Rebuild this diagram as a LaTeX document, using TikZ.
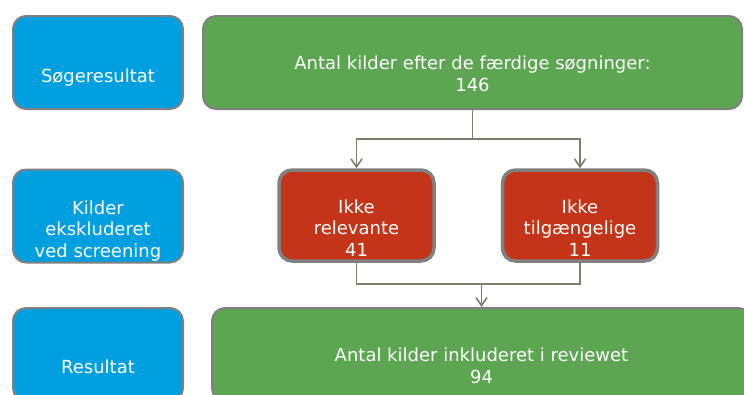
\documentclass[tikz,border=0pt]{standalone}
\usepackage{fontspec}
\setmainfont{DejaVu Sans}
\usetikzlibrary{arrows.meta,calc}
\definecolor{bluefill}{RGB}{0,160,224}
\definecolor{greenfill}{RGB}{92,166,82}
\definecolor{redfill}{RGB}{196,52,24}
\definecolor{boxedge}{RGB}{128,128,128}
\definecolor{linkcol}{RGB}{126,126,110}
\begin{document}
\begin{tikzpicture}[x=1pt,y=-1pt,
  box/.style={draw=boxedge,line width=2pt,rounded corners=13pt,
    minimum width=#1,minimum height=93pt,inner sep=0pt,outer sep=1pt},
  bluebox/.style={box=170pt,fill=bluefill},
  greenbox/.style={box=539pt,fill=greenfill},
  redbox/.style={draw=boxedge,line width=3.5pt,rounded corners=13pt,fill=redfill,
    minimum width=155pt,minimum height=91pt,inner sep=0pt},
  label/.style={text=white,align=center,anchor=base,
    font=\fontsize{18}{21.5}\selectfont},
  link/.style={draw=linkcol,line width=1.8pt},
  arrow/.style={link,-{Straight Barb[length=8pt,width=11pt,line width=1.6pt]}}]
\useasboundingbox (0,0) rectangle (744,394);

% row labels on the left
\node[bluebox] (b1) at (98,62.5) {};
\node[bluebox] (b2) at (98,216) {};
\node[bluebox] (b3) at (98,354.5) {};

% flow boxes
\node[greenbox] (g1) at (472.5,62.5) {};
\node[redbox] (r1) at (356.5,215.5) {};
\node[redbox] (r2) at (580,215.5) {};
\node[greenbox] (g2) at (481.5,354.5) {};

% texts (anchored on the baseline of their last line)
\node[label] (t1) at (98,82) {Søgeresultat};
\node[label] (t2) at (98,257) {Kilder\\ekskluderet\\ved screening};
\node[label] (t3) at (98,373) {Resultat};
\node[label] (t4) at (472.5,91) {Antal kilder efter de færdige søgninger:\\146};
\node[label] (t5) at (356.5,256) {Ikke\\relevante\\41};
\node[label] (t6) at (580,256) {Ikke\\tilgængelige\\11};
\node[label] (t7) at (481.5,383) {Antal kilder inkluderet i reviewet\\94};

% split after the search
\coordinate (split) at ($(g1.south)+(0,29)$);
\draw[link] (g1.south) -- (split);
\draw[arrow] (split) -| (r1.north);
\draw[arrow] (split) -| (r2.north);

% merge into the result
\coordinate (merge) at ($(g2.north)+(0,-23)$);
\draw[link] (r1.south) |- (merge);
\draw[link] (r2.south) |- (merge);
\draw[arrow] (merge) -- (g2.north);
\end{tikzpicture}
\end{document}
